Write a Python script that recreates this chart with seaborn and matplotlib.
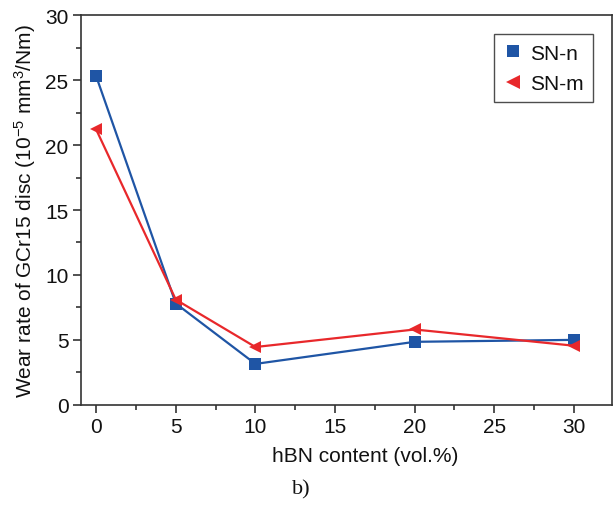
import matplotlib
matplotlib.use("Agg")
import matplotlib.pyplot as plt
import seaborn as sns
import pandas as pd
from matplotlib.ticker import MultipleLocator
from matplotlib.lines import Line2D

sns.set_theme(style="white")
plt.rcParams['font.family'] = ['Liberation Sans', 'DejaVu Sans']
plt.rcParams['mathtext.fontset'] = 'custom'
plt.rcParams['mathtext.rm'] = 'Liberation Sans'
plt.rcParams['mathtext.default'] = 'regular'
plt.rcParams['text.color'] = '#111111'
plt.rcParams['axes.labelcolor'] = '#111111'
plt.rcParams['xtick.color'] = '#111111'
plt.rcParams['ytick.color'] = '#111111'

hbn = [0, 5, 10, 20, 30]
sn_n = [25.3, 7.8, 3.15, 4.85, 5.0]
sn_m = [21.2, 8.1, 4.45, 5.8, 4.55]
series = ["SN-n", "SN-m"]

df = pd.concat([
    pd.DataFrame({"x": hbn, "y": sn_n, "s": series[0]}),
    pd.DataFrame({"x": hbn, "y": sn_m, "s": series[1]}),
])

fig = plt.figure(figsize=(6.14, 5.06), dpi=100)
ax = fig.add_axes([0.132, 0.198, 0.865, 0.77])
palette = {"SN-n": "#1f55a5", "SN-m": "#e8282b"}
sns.lineplot(data=df, x="x", y="y", hue="s", style="s", markers={"SN-n": "s", "SN-m": "<"},
             dashes=False, palette=palette, ax=ax, markersize=8.5, linewidth=1.6,
             markeredgewidth=0, legend=False)

ax.set_xlim(-0.95, 32.4)
ax.set_ylim(0, 30)
ax.xaxis.set_major_locator(MultipleLocator(5))
ax.xaxis.set_minor_locator(MultipleLocator(2.5))
ax.yaxis.set_major_locator(MultipleLocator(5))
ax.yaxis.set_minor_locator(MultipleLocator(2.5))
ax.tick_params(which="both", direction="out", bottom=True, left=True, top=False, right=False,
               color="#222222", width=1.1)
ax.tick_params(which="major", length=6, labelsize=15, pad=3)
ax.tick_params(which="minor", length=3.5)
for sp in ax.spines.values():
    sp.set_color("#333333")
    sp.set_linewidth(1.2)

ax.set_xlabel("hBN content (vol.%)", fontsize=15, labelpad=7, x=0.535)
ax.set_ylabel("Wear rate of GCr15 disc (10$^{-5}$ mm$^{3}$/Nm)", fontsize=15, labelpad=5)

handles = [Line2D([], [], linestyle="none", marker="s", color=palette["SN-n"], markersize=8.5, markeredgewidth=0),
           Line2D([], [], linestyle="none", marker="<", color=palette["SN-m"], markersize=9.5, markeredgewidth=0)]
leg = ax.legend(handles, series, loc="upper right", bbox_to_anchor=(0.964, 0.951), fontsize=15,
                frameon=True, fancybox=False, edgecolor="#222222", handletextpad=0.3,
                handlelength=1.0, borderpad=0.45, labelspacing=0.55, borderaxespad=0)
leg.get_frame().set_linewidth(1.0)

fig.text(0.49, 0.032, "b)", fontsize=16, family="Liberation Serif", ha="center", va="center")

fig.savefig("out.png", dpi=100)
